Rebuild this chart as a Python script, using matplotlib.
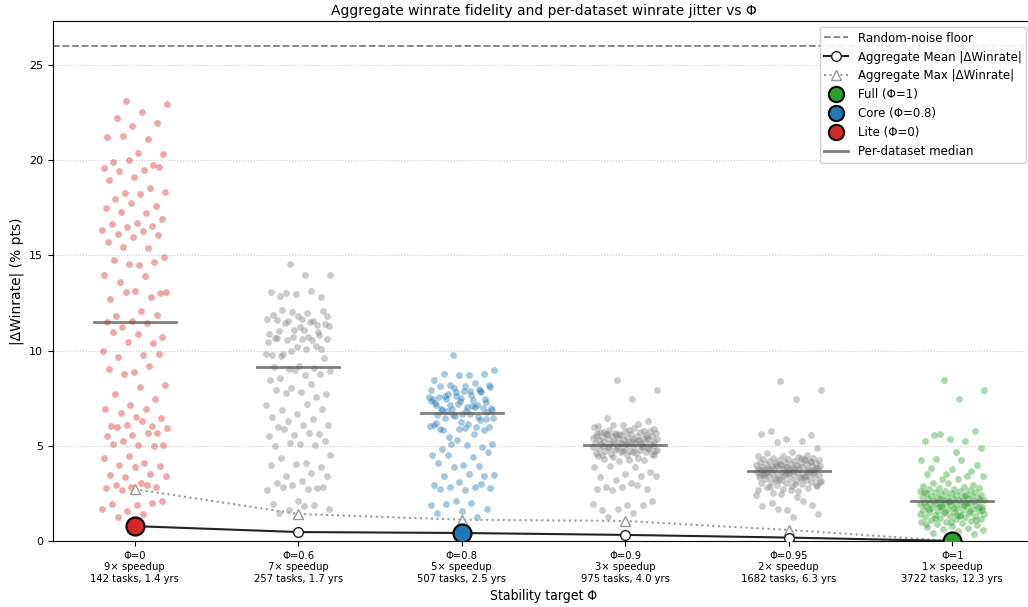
import numpy as np
import matplotlib
matplotlib.use("Agg")
import matplotlib.pyplot as plt
from matplotlib.lines import Line2D

# stability targets and their x tick text
phi_labels = ["Φ=0", "Φ=0.6", "Φ=0.8", "Φ=0.9", "Φ=0.95", "Φ=1"]
speedups = ["9× speedup", "7× speedup", "5× speedup", "3× speedup", "2× speedup", "1× speedup"]
tasks = ["142 tasks, 1.4 yrs", "257 tasks, 1.7 yrs", "507 tasks, 2.5 yrs",
         "975 tasks, 4.0 yrs", "1682 tasks, 6.3 yrs", "3722 tasks, 12.3 yrs"]

# aggregate lines
mean_abs = [0.78, 0.47, 0.42, 0.32, 0.18, 0.0]
max_abs = [2.72, 1.42, 1.12, 1.05, 0.58, 0.0]
medians = [11.5, 9.15, 6.7, 5.05, 3.7, 2.1]
noise_floor = 26.0

# per-dataset |dWinrate|
phi0 = [23.1, 22.95, 22.5, 22.2, 21.95, 21.8, 21.2, 21.1, 21.25, 20.3, 20.35, 19.9, 19.75,
        20.0, 19.6, 19.5, 19.4, 19.65, 19.1, 18.95, 18.55, 18.25, 18.3, 18.2, 17.95, 17.6,
        17.75, 17.5, 17.2, 17.25, 16.9, 16.7, 16.65, 16.55, 16.5, 16.35, 16.25, 16.1, 16.05,
        15.95, 15.7, 15.4, 15.45, 14.9, 14.5, 14.75, 14.65, 14.55, 13.95, 13.9, 13.6, 13.0,
        13.1, 12.7, 12.8, 13.05, 13.05, 12.1, 11.8, 11.85, 11.55, 11.5, 11.45, 11.25, 10.7,
        10.85, 10.95, 10.4, 10.45, 9.98, 9.77, 9.68, 9.8, 8.88, 9.04, 9.18, 8.76, 8.2, 8.06,
        7.71, 7.47, 7.13, 6.91, 6.95, 6.7, 6.44, 6.49, 6.02, 6.05, 6.09, 5.91, 6.3, 6.0, 5.65,
        5.56, 5.53, 5.69, 5.25, 5.04, 5.02, 5.11, 4.97, 4.48, 4.36, 4.12, 4.0, 3.96, 3.89, 3.44,
        3.52, 3.38, 3.42, 3.05, 2.93, 2.81, 2.85, 2.77, 2.95, 2.7, 2.11, 1.9, 1.93, 1.97, 1.6,
        1.69, 1.43, 1.27]
phi06 = [14.54, 13.98, 13.97, 12.87, 12.83, 12.97, 13.06, 13.11, 13.02, 11.82, 11.63, 11.6,
         11.35, 12.01, 11.66, 11.96, 12.13, 12.1, 11.8, 11.84, 11.57, 11.54, 11.31, 11.1, 11.05,
         10.79, 11.09, 10.89, 11.5, 11.47, 11.37, 11.24, 10.67, 10.23, 9.95, 9.8, 10.07, 9.69,
         10.06, 10.18, 9.78, 10.55, 10.53, 10.58, 10.63, 10.65, 10.98, 10.7, 10.44, 10.72, 9.83,
         9.6, 9.17, 9.13, 9.1, 9.01, 8.9, 8.7, 8.54, 8.78, 8.96, 8.47, 8.22, 7.77, 7.72, 7.8,
         7.91, 7.56, 8.05, 7.16, 7.21, 6.9, 6.93, 6.65, 6.51, 6.43, 6.3, 6.08, 6.1, 5.99, 5.64,
         5.59, 5.52, 5.68, 5.9, 5.26, 5.07, 5.01, 5.03, 5.12, 4.49, 4.11, 4.37, 3.9, 4.02, 3.98,
         3.55, 3.43, 3.41, 3.15, 3.02, 2.8, 2.94, 2.67, 2.71, 2.85, 2.82, 2.1, 1.94, 1.89, 1.63,
         1.7, 1.86, 1.45]
phi08 = [9.79, 9.0, 8.74, 8.79, 8.76, 8.7, 8.43, 8.32, 8.18, 8.08, 8.13, 8.16, 7.9, 7.82, 7.93,
         7.64, 7.47, 7.29, 7.5, 7.12, 7.15, 6.94, 6.86, 7.03, 6.88, 6.97, 7.2, 7.44, 7.38, 7.73,
         8.2, 7.87, 7.55, 7.99, 8.02, 7.58, 7.9, 7.61, 7.47, 7.35, 7.27, 7.05, 7.12, 7.0, 6.84,
         6.92, 7.8, 7.6, 7.33, 7.07, 6.8, 6.75, 6.68, 6.59, 6.51, 6.62, 6.48, 6.16, 5.81, 5.84,
         5.9, 6.07, 5.63, 5.46, 5.98, 5.93, 5.88, 6.33, 6.56, 6.05, 6.65, 6.45, 6.4, 6.25, 6.2,
         6.0, 5.11, 5.08, 5.02, 4.85, 4.94, 5.28, 4.53, 4.41, 4.5, 4.67, 3.98, 4.1, 3.95, 3.89,
         3.45, 3.54, 3.4, 3.42, 3.1, 2.96, 2.84, 2.82, 2.79, 2.7, 2.73, 2.98, 2.09, 1.9, 1.97,
         1.93, 1.67, 1.58, 1.45, 1.27]
phi09 = [8.43, 7.94, 7.47, 6.45, 6.28, 6.07, 6.04, 6.12, 6.1, 5.86, 5.81, 5.72, 5.75, 5.6,
         5.98, 5.92, 5.84, 5.79, 5.77, 5.74, 5.71, 5.69, 5.66, 5.64, 5.61, 5.58, 5.57, 5.53,
         5.51, 5.49, 5.5, 5.47, 5.44, 5.41, 5.39, 5.42, 5.37, 5.34, 5.33, 5.29, 5.31, 5.27,
         5.24, 5.22, 5.19, 5.21, 5.18, 5.16, 5.14, 5.13, 5.11, 5.09, 5.1, 5.08, 5.07, 5.56,
         5.36, 5.26, 5.63, 5.46, 5.17, 5.67, 5.32, 5.12, 5.04, 5.02, 5.0, 4.98, 4.97, 4.95,
         4.93, 4.9, 4.88, 4.85, 4.83, 4.8, 4.78, 4.75, 4.72, 4.7, 4.68, 4.65, 4.62, 4.6, 4.58,
         4.55, 4.52, 4.5, 4.96, 4.86, 4.76, 4.66, 4.91, 4.81, 4.71, 4.45, 4.38, 4.41, 4.5, 4.27,
         4.33, 4.24, 4.21, 3.89, 3.86, 3.92, 3.63, 3.54, 3.37, 3.4, 3.19, 3.43, 3.02, 2.81, 2.74,
         2.84, 2.75, 2.93, 2.67, 2.09, 1.88, 1.62, 1.9, 1.66, 1.93, 1.45, 1.27]
phi095 = [8.4, 7.94, 7.47, 5.78, 5.59, 5.38, 5.64, 5.24, 5.22, 4.89, 4.68, 4.63,
          4.52, 4.47, 4.44, 4.41, 4.38, 4.36, 4.33, 4.31, 4.29, 4.27, 4.24, 4.22, 4.2, 4.18,
          4.16, 4.14, 4.12, 4.1, 4.08, 4.06, 4.04, 4.02, 4.0, 3.98, 3.97, 3.95, 3.93, 3.91,
          3.9, 3.88, 3.86, 3.85, 3.83, 3.82, 3.8, 3.79, 3.77, 3.76, 3.75, 3.73, 3.72, 3.71,
          4.25, 4.05, 3.94, 3.84, 3.78, 4.15, 3.87, 3.74, 4.35, 3.99, 3.81,
          3.68, 3.67, 3.65, 3.64, 3.62, 3.6, 3.58, 3.57, 3.55, 3.53, 3.51, 3.49, 3.47, 3.45,
          3.43, 3.41, 3.39, 3.37, 3.35, 3.33, 3.3, 3.28, 3.25, 3.22, 3.2, 3.17, 3.14, 3.11,
          3.08, 3.05, 3.02, 2.98, 2.95, 2.91, 2.87, 2.83, 2.78, 2.72, 2.66, 2.6, 2.53, 3.63,
          3.56, 3.48, 3.36, 3.26, 3.12, 3.0, 2.85, 3.66, 3.52, 3.44, 3.31, 3.18, 2.93, 2.7,
          3.59, 3.4, 2.48, 2.4, 2.3, 1.97, 1.89, 1.62, 1.86, 2.1, 1.68, 1.41, 1.27]
phi1 = [8.43, 7.94, 7.47, 5.58, 5.79, 5.37, 5.25, 5.23, 5.63, 4.9, 4.67, 3.85, 3.68, 3.54,
        4.24, 4.27, 4.33, 3.98, 3.8, 3.51, 3.43, 3.23, 3.4, 3.26, 3.02, 2.93, 3.05,
        2.88, 2.84, 2.8, 2.77, 2.74, 2.71, 2.68, 2.65, 2.62, 2.6, 2.57, 2.55, 2.52, 2.5,
        2.47, 2.45, 2.42, 2.4, 2.38, 2.35, 2.33, 2.31, 2.29, 2.27, 2.25, 2.23, 2.21, 2.19,
        2.17, 2.15, 2.13, 2.11, 2.09, 2.08, 2.58, 2.36, 2.22, 2.14,
        2.04, 2.02, 2.0, 1.98, 1.96, 1.94, 1.92, 1.9, 1.87, 1.85, 1.83, 1.8, 1.78, 1.75, 1.73,
        1.7, 1.68, 1.65, 1.62, 1.6, 1.57, 1.54, 1.51, 1.48, 1.45, 1.42, 1.39, 1.36, 1.33,
        1.3, 1.27, 1.24, 1.2, 1.17, 1.13, 1.1, 1.06, 1.02, 0.98, 0.94, 0.9, 0.86, 0.81, 0.76,
        0.7, 0.64, 0.57, 0.5, 0.4, 0.35, 2.03, 1.97, 1.91, 1.86, 1.79, 1.72, 1.66, 1.58,
        1.5, 1.41, 1.32, 1.22, 1.12, 1.0, 0.88, 1.99, 1.82, 1.61, 1.35]

groups = [phi0, phi06, phi08, phi09, phi095, phi1]
colors = ["#d62728", "#7f7f7f", "#1f77b4", "#7f7f7f", "#7f7f7f", "#2ca02c"]

fig = plt.figure(figsize=(10.28, 6.07), dpi=100)
ax = fig.add_axes([53 / 1028, 66 / 607, 981 / 1028, 520 / 607])

for i, (vals, c) in enumerate(zip(groups, colors)):
    n = len(vals)
    jit = ((np.arange(n) * 0.618034 + 0.37) % 1 - 0.5) * 0.4
    ax.scatter(i + jit, vals, s=24, color=c, alpha=0.4, linewidths=0, zorder=2)
    ax.plot([i - 0.25, i + 0.25], [medians[i], medians[i]], color="#555555",
            lw=2, alpha=0.75, zorder=3)

x = np.arange(len(phi_labels))
ax.axhline(noise_floor, color="gray", ls="--", lw=1.3, zorder=1)
ax.plot(x, max_abs, ls=":", color="#999999", lw=1.5, marker="^", ms=7,
        mfc="white", mec="#999999", zorder=4)
ax.plot(x, mean_abs, "-", color="#222222", lw=1.5, marker="o", ms=7,
        mfc="white", mec="#222222", zorder=5)

# highlighted tiers on the mean line
for idx, c in [(5, "#2ca02c"), (2, "#1f77b4"), (0, "#d62728")]:
    ax.plot(x[idx], mean_abs[idx], "o", ms=13, color=c, mec="black", mew=1.5, zorder=6)

ax.set_xlim(-0.5, 5.5)
ax.set_ylim(0, 27.3)
ax.set_yticks([0, 5, 10, 15, 20, 25])
ax.tick_params(axis="y", labelsize=8)
ax.set_xticks(x)
ax.set_xticklabels([f"{a}\n{b}\n{c}" for a, b, c in zip(phi_labels, speedups, tasks)],
                   fontsize=8, fontstretch="condensed")
ax.grid(axis="y", ls=":", color="#cccccc", lw=0.8)
ax.set_axisbelow(True)

ax.set_xlabel("Stability target Φ", fontsize=10, fontstretch="condensed")
ax.set_ylabel("|ΔWinrate| (% pts)", fontsize=10)
ax.set_title("Aggregate winrate fidelity and per-dataset winrate jitter vs Φ", fontsize=10, pad=4)

handles = [
    Line2D([], [], color="gray", ls="--", lw=1.3, label="Random-noise floor"),
    Line2D([], [], color="#222222", lw=1.5, marker="o", ms=7, mfc="white",
           label="Aggregate Mean |ΔWinrate|"),
    Line2D([], [], color="#999999", ls=":", lw=1.5, marker="^", ms=7, mfc="white",
           label="Aggregate Max |ΔWinrate|"),
    Line2D([], [], ls="", marker="o", ms=11, color="#2ca02c", mec="black", mew=1.5,
           label="Full (Φ=1)"),
    Line2D([], [], ls="", marker="o", ms=11, color="#1f77b4", mec="black", mew=1.5,
           label="Core (Φ=0.8)"),
    Line2D([], [], ls="", marker="o", ms=11, color="#d62728", mec="black", mew=1.5,
           label="Lite (Φ=0)"),
    Line2D([], [], color="#555555", lw=2, alpha=0.75, label="Per-dataset median"),
]
ax.legend(handles=handles, loc="upper right", fontsize=8.5, framealpha=0.9,
          bbox_to_anchor=(0.998, 1.0))

fig.savefig("out.png", dpi=100)
